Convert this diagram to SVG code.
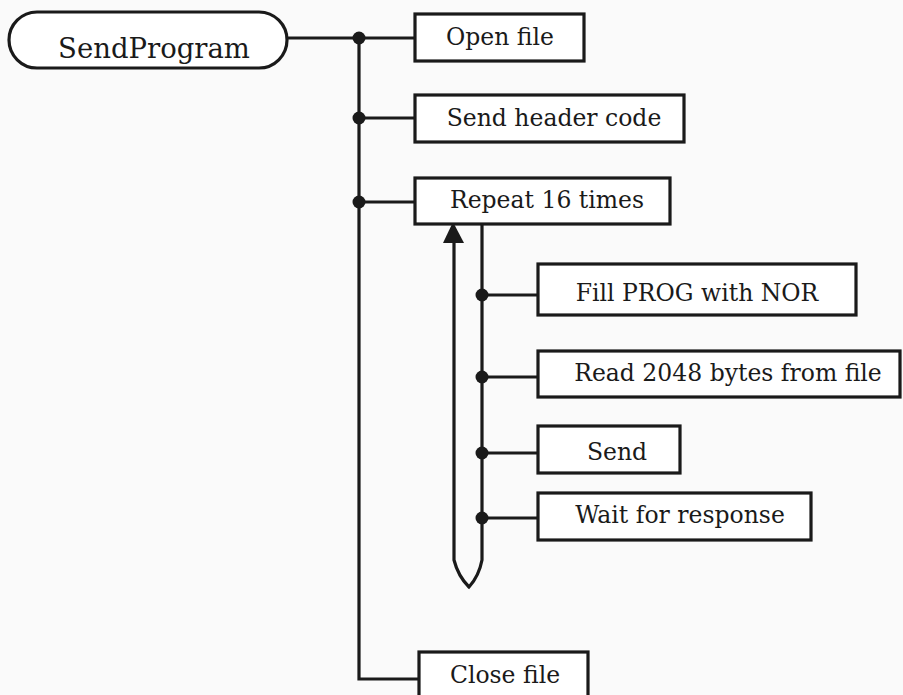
<svg xmlns="http://www.w3.org/2000/svg" width="903" height="695" viewBox="0 0 903 695">
<style>
.b{fill:#fff;stroke:#1a1a1a;stroke-width:3.2}
.t{font-family:"DejaVu Serif","Liberation Serif",serif;font-size:23.5px;fill:#1a1a1a;text-anchor:middle}
.c{fill:none;stroke:#1a1a1a;stroke-width:3.2}
.d{fill:#1a1a1a}
</style>
<rect width="903" height="695" fill="#fafafa"/>
<g id="connectors">
<path class="c" d="M287 38 H416"/>
<path class="c" d="M359 38 V679 H420"/>
<path class="c" d="M359 118 H416"/>
<path class="c" d="M359 202 H416"/>
<path class="c" d="M482 224 V560 Q479 576 469 587 Q458 576 454 560 V240"/>
<polygon class="d" points="453,222 443,243 464,243"/>
<path class="c" d="M482 295 H538"/>
<path class="c" d="M482 377 H538"/>
<path class="c" d="M482 453 H538"/>
<path class="c" d="M482 518 H538"/>
<circle class="d" cx="359" cy="38" r="6.5"/>
<circle class="d" cx="359" cy="118" r="6.5"/>
<circle class="d" cx="359" cy="202" r="6.5"/>
<circle class="d" cx="482" cy="295" r="6.5"/>
<circle class="d" cx="482" cy="377" r="6.5"/>
<circle class="d" cx="482" cy="453" r="6.5"/>
<circle class="d" cx="482" cy="518" r="6.5"/>
</g>
<g id="sendprogram">
<rect class="b" x="9" y="12" width="278" height="56" rx="28" ry="28"/>
<text class="t" x="154" y="58" style="font-size:27.5px">SendProgram</text>
</g>
<g id="openfile">
<rect class="b" x="415" y="14" width="169" height="47"/>
<text class="t" x="500" y="45">Open file</text>
</g>
<g id="sendheader">
<rect class="b" x="415" y="95" width="269" height="47"/>
<text class="t" x="554" y="126">Send header code</text>
</g>
<g id="repeat">
<rect class="b" x="415" y="178" width="255" height="46"/>
<text class="t" x="547" y="208">Repeat 16 times</text>
</g>
<g id="fillprog">
<rect class="b" x="538" y="264" width="318" height="51"/>
<text class="t" x="697" y="301">Fill PROG with NOR</text>
</g>
<g id="read">
<rect class="b" x="538" y="351" width="362" height="46"/>
<text class="t" x="728" y="381">Read 2048 bytes from file</text>
</g>
<g id="send">
<rect class="b" x="538" y="426" width="142" height="47"/>
<text class="t" x="617" y="460">Send</text>
</g>
<g id="wait">
<rect class="b" x="538" y="493" width="273" height="47"/>
<text class="t" x="680" y="523">Wait for response</text>
</g>
<g id="closefile">
<rect class="b" x="419" y="652" width="169" height="50"/>
<text class="t" x="505" y="683">Close file</text>
</g>
</svg>
